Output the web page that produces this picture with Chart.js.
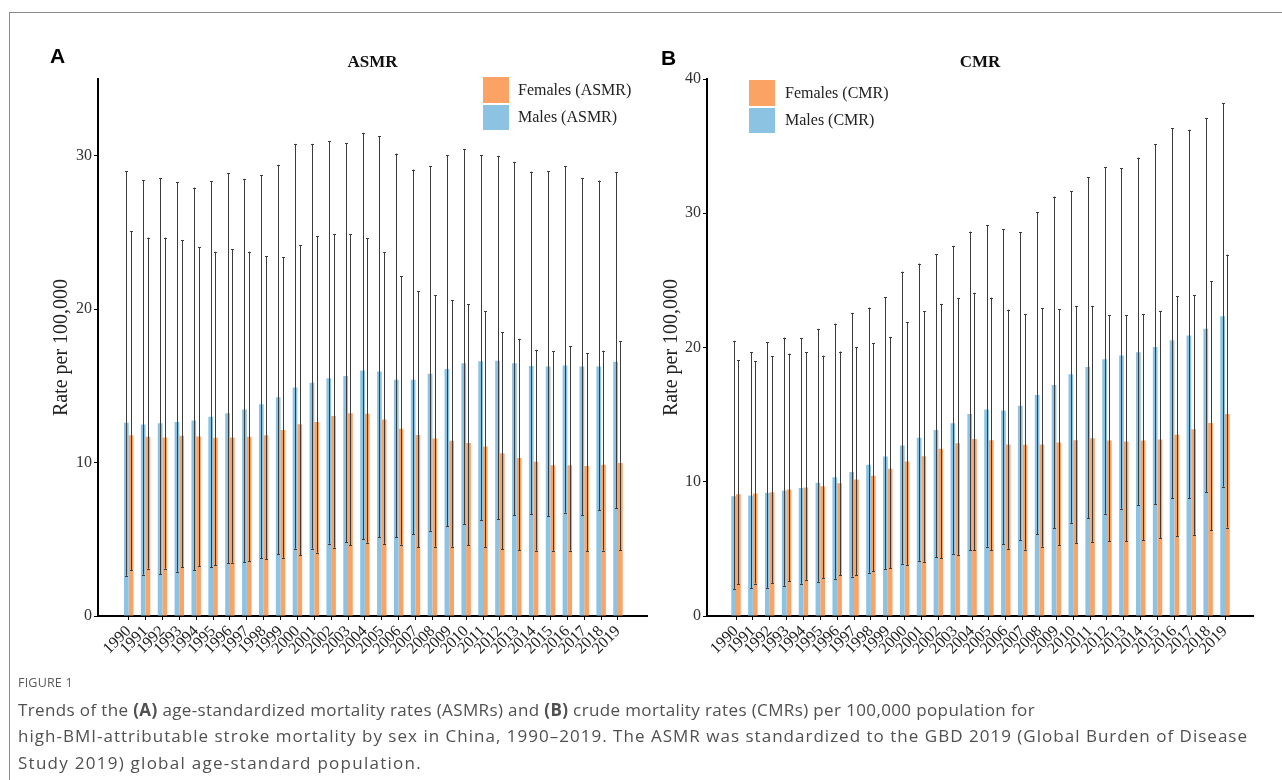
<!DOCTYPE html>
<html>
<head>
<meta charset="utf-8">
<script src="https://cdn.jsdelivr.net/npm/chart.js@4.4.1/dist/chart.umd.min.js"></script>
<style>
  html, body { margin: 0; padding: 0; background: #fff; }
  body { width: 1282px; height: 780px; position: relative; overflow: hidden; }
  .frame { position: absolute; left: 9px; top: 12px; width: 1300px; height: 800px; border: 1px solid #8a8a8a; }
  .wrap { position: absolute; top: 0; width: 620px; height: 680px; }
  .panel { position: absolute; font: bold 21px "Liberation Sans", Arial, sans-serif; line-height: 1; color: #000; }
  .ttl { position: absolute; font: bold 17px "Liberation Serif", "Times New Roman", serif; line-height: 1; color: #111; transform: translateX(-50%); }
  .legend { position: absolute; font: 16px "Liberation Serif", "Times New Roman", serif; color: #222; }
  .legend .row { display: flex; align-items: center; height: 25.5px; margin-bottom: 2px; }
  .legend .box { width: 26px; height: 25.5px; }
  .caption { position: absolute; left: 18px; top: 674px; color: #505050; font-family: "Open Sans", "Noto Sans", sans-serif; }
  .caption .fig { font-size: 12.5px; line-height: 18px; letter-spacing: 0.2px; color: #5a5a5a; }
  .caption p { margin: 4.5px 0 0 0; font-size: 17px; line-height: 26.5px; white-space: nowrap; }
  .caption .ln { display: inline-block; }
</style>
</head>
<body>
<div class="frame"></div>

<div class="wrap" style="left:40px"><canvas id="chartA"></canvas></div>
<div class="wrap" style="left:650px"><canvas id="chartB"></canvas></div>

<div class="panel" style="left:50px; top:45px">A</div>
<div class="panel" style="left:661px; top:47px">B</div>
<div class="ttl" style="left:372.5px; top:53px">ASMR</div>
<div class="ttl" style="left:980px; top:53px">CMR</div>

<div class="legend" style="left:483px; top:77px">
  <div class="row"><div class="box" style="background:#fba365"></div><span style="margin-left:9px">Females (ASMR)</span></div>
  <div class="row"><div class="box" style="background:#8cc3e3"></div><span style="margin-left:9px">Males (ASMR)</span></div>
</div>
<div class="legend" style="left:749px; top:80px">
  <div class="row"><div class="box" style="background:#fba365"></div><span style="margin-left:10px">Females (CMR)</span></div>
  <div class="row"><div class="box" style="background:#8cc3e3"></div><span style="margin-left:10px">Males (CMR)</span></div>
</div>

<div class="caption">
  <div class="fig">FIGURE 1</div>
  <p><span class="ln" data-w="1017">Trends of the <b>(A)</b> age-standardized mortality rates (ASMRs) and <b>(B)</b> crude mortality rates (CMRs) per 100,000 population for</span><br><span class="ln" data-w="1230">high-BMI-attributable stroke mortality by sex in China, 1990–2019. The ASMR was standardized to the GBD 2019 (Global Burden of Disease</span><br><span class="ln" data-w="404">Study 2019) global age-standard population.</span></p>
</div>

<script>
// years on the x axis
const years = [1990, 1991, 1992, 1993, 1994, 1995, 1996, 1997, 1998, 1999,
  2000, 2001, 2002, 2003, 2004, 2005, 2006, 2007, 2008, 2009,
  2010, 2011, 2012, 2013, 2014, 2015, 2016, 2017, 2018, 2019];

// ASMR (age-standardized), per 100,000
const asmrMale   = [12.60, 12.48, 12.57, 12.65, 12.74, 12.98, 13.22, 13.46, 13.80, 14.26, 14.90, 15.20, 15.50, 15.65, 16.00, 15.94, 15.40, 15.40, 15.79, 16.10, 16.48, 16.60, 16.63, 16.48, 16.30, 16.26, 16.33, 16.26, 16.26, 16.57];
const asmrMaleLo = [2.63, 2.70, 2.74, 2.89, 3.00, 3.17, 3.43, 3.52, 3.78, 4.04, 4.39, 4.39, 4.72, 4.81, 5.02, 5.13, 5.13, 5.33, 5.56, 5.85, 5.98, 6.26, 6.31, 6.57, 6.65, 6.52, 6.74, 6.57, 6.89, 7.02];
const asmrMaleHi = [28.98, 28.42, 28.53, 28.29, 27.92, 28.35, 28.88, 28.49, 28.75, 29.40, 30.77, 30.77, 30.96, 30.83, 31.49, 31.27, 30.14, 29.10, 29.31, 30.03, 30.44, 30.05, 29.99, 29.60, 28.96, 28.98, 29.31, 28.55, 28.38, 28.94];
const asmrFemale   = [11.78, 11.68, 11.63, 11.74, 11.70, 11.61, 11.63, 11.68, 11.78, 12.13, 12.50, 12.65, 13.03, 13.22, 13.18, 12.80, 12.20, 11.80, 11.57, 11.42, 11.28, 11.04, 10.61, 10.30, 10.05, 9.83, 9.83, 9.78, 9.85, 9.98];
const asmrFemaleLo = [3.00, 3.09, 3.09, 3.17, 3.26, 3.30, 3.48, 3.59, 3.70, 3.80, 3.96, 4.13, 4.46, 4.61, 4.78, 4.70, 4.65, 4.48, 4.52, 4.52, 4.61, 4.50, 4.35, 4.30, 4.26, 4.26, 4.26, 4.22, 4.26, 4.30];
const asmrFemaleHi = [25.09, 24.66, 24.66, 24.51, 24.03, 23.74, 23.90, 23.74, 23.46, 23.40, 24.16, 24.77, 24.90, 24.90, 24.64, 23.72, 22.16, 21.18, 20.89, 20.59, 20.31, 19.85, 18.50, 18.07, 17.35, 17.24, 17.57, 17.14, 17.29, 17.90];

// CMR (crude), per 100,000
const cmrMale   = [8.92, 8.97, 9.17, 9.34, 9.54, 9.92, 10.34, 10.73, 11.26, 11.88, 12.70, 13.27, 13.86, 14.36, 15.05, 15.38, 15.30, 15.67, 16.47, 17.21, 18.00, 18.55, 19.12, 19.40, 19.64, 20.04, 20.54, 20.89, 21.39, 22.32];
const cmrMaleLo = [2.02, 2.07, 2.10, 2.25, 2.40, 2.55, 2.77, 2.94, 3.22, 3.51, 3.89, 4.11, 4.36, 4.63, 4.90, 5.17, 5.37, 5.67, 6.09, 6.54, 6.94, 7.28, 7.61, 8.00, 8.28, 8.32, 8.77, 8.77, 9.20, 9.64];
const cmrMaleHi = [20.49, 19.64, 20.39, 20.74, 20.69, 21.39, 21.78, 22.58, 22.97, 23.74, 25.65, 26.25, 26.94, 27.57, 28.63, 29.13, 28.83, 28.58, 30.10, 31.24, 31.66, 32.70, 33.42, 33.37, 34.14, 35.13, 36.35, 36.22, 37.10, 38.21];
const cmrFemale   = [9.07, 9.12, 9.22, 9.42, 9.57, 9.67, 9.89, 10.16, 10.44, 10.96, 11.50, 11.90, 12.45, 12.87, 13.19, 13.09, 12.77, 12.75, 12.77, 12.92, 13.09, 13.24, 13.07, 12.99, 13.07, 13.14, 13.51, 13.91, 14.38, 15.05];
const cmrFemaleLo = [2.37, 2.42, 2.44, 2.59, 2.70, 2.84, 3.04, 3.04, 3.34, 3.56, 3.81, 4.04, 4.30, 4.56, 4.88, 4.88, 5.00, 4.95, 5.17, 5.30, 5.45, 5.52, 5.57, 5.57, 5.64, 5.79, 5.97, 6.05, 6.39, 6.59];
const cmrFemaleHi = [19.05, 19.00, 19.35, 19.55, 19.64, 19.40, 19.70, 20.04, 20.34, 20.79, 21.88, 22.70, 23.25, 23.69, 24.07, 23.72, 22.82, 22.50, 22.92, 22.87, 23.10, 23.10, 22.40, 22.40, 22.47, 22.73, 23.84, 23.89, 24.93, 26.92];

const maleColor = '#8cc3e3';
const femaleColor = '#fba365';
const serif = '"Liberation Serif", "Times New Roman", serif';

// whiskers drawn on top of the bars
const errorBars = {
  id: 'errorBars',
  afterDatasetsDraw(chart) {
    const ctx = chart.ctx;
    const y = chart.scales.y;
    ctx.save();
    ctx.strokeStyle = '#3c3c3c';
    ctx.lineWidth = 1;
    chart.data.datasets.forEach((ds, i) => {
      const meta = chart.getDatasetMeta(i);
      meta.data.forEach((bar, j) => {
        const x = Math.round(bar.x) + 0.5;
        const top = y.getPixelForValue(ds.errHi[j]);
        const bot = y.getPixelForValue(ds.errLo[j]);
        ctx.beginPath();
        ctx.moveTo(x, top);
        ctx.lineTo(x, bot);
        ctx.moveTo(x - 1.5, Math.round(top) + 0.5);
        ctx.lineTo(x + 1.5, Math.round(top) + 0.5);
        ctx.moveTo(x - 1.5, Math.round(bot) + 0.5);
        ctx.lineTo(x + 1.5, Math.round(bot) + 0.5);
        ctx.stroke();
      });
    });
    ctx.restore();
  }
};

function pts(vals) {
  return years.map((yr, i) => ({ x: yr, y: vals[i] }));
}

function makeChart(id, o) {
  return new Chart(document.getElementById(id), {
    type: 'bar',
    data: {
      datasets: [
        { label: o.maleLabel, data: pts(o.male), errLo: o.maleLo, errHi: o.maleHi, backgroundColor: maleColor },
        { label: o.femaleLabel, data: pts(o.female), errLo: o.femaleLo, errHi: o.femaleHi, backgroundColor: femaleColor }
      ]
    },
    options: {
      responsive: false,
      animation: false,
      categoryPercentage: 0.56,
      barPercentage: 1.0,
      layout: { padding: { left: 0, right: o.padRight, top: 79, bottom: 0 } },
      plugins: { legend: { display: false }, tooltip: { enabled: false } },
      scales: {
        x: {
          type: 'linear',
          min: o.xMin,
          max: o.xMax,
          offset: false,
          afterFit: (s) => { s.height = 64; },
          afterBuildTicks: (s) => { s.ticks = s.ticks.filter(t => t.value >= 1990 && t.value <= 2019); },
          ticks: {
            stepSize: 1,
            includeBounds: false,
            autoSkip: false,
            maxRotation: 45,
            minRotation: 45,
            padding: 2,
            color: '#222',
            font: { family: serif, size: 16 },
            callback: (v) => String(v)
          },
          grid: { offset: false, drawOnChartArea: false, drawTicks: true, tickLength: 4, color: '#000' },
          border: { display: true, color: '#000', width: 2 }
        },
        y: {
          min: 0,
          max: o.yMax,
          afterFit: (s) => { s.width = o.yWidth; },
          ticks: {
            stepSize: 10,
            includeBounds: false,
            padding: 2,
            color: '#333',
            font: { family: serif, size: 16 }
          },
          title: {
            display: true,
            text: 'Rate per 100,000',
            color: '#222',
            font: { family: serif, size: 20 },
            padding: { top: 9.5, bottom: 0 }
          },
          grid: { drawOnChartArea: false, drawTicks: true, tickLength: 4, color: '#000' },
          border: { display: true, color: '#000', width: 2 }
        }
      }
    },
    plugins: [errorBars]
  });
}

document.getElementById('chartA').width = 620;
document.getElementById('chartA').height = 680;
document.getElementById('chartB').width = 620;
document.getElementById('chartB').height = 680;

makeChart('chartA', {
  maleLabel: 'Males (ASMR)', femaleLabel: 'Females (ASMR)',
  male: asmrMale, maleLo: asmrMaleLo, maleHi: asmrMaleHi,
  female: asmrFemale, femaleLo: asmrFemaleLo, femaleHi: asmrFemaleHi,
  yMax: 35, xMin: 1988.18, xMax: 2020.72, yWidth: 58, padRight: 13
});

makeChart('chartB', {
  maleLabel: 'Males (CMR)', femaleLabel: 'Females (CMR)',
  male: cmrMale, maleLo: cmrMaleLo, maleHi: cmrMaleHi,
  female: cmrFemale, femaleLo: cmrFemaleLo, femaleHi: cmrFemaleHi,
  yMax: 40, xMin: 1988.28, xMax: 2020.66, yWidth: 57, padRight: 17
});

// stretch each caption line to the width it has in the printed figure
document.querySelectorAll('.caption .ln').forEach(el => {
  const target = +el.dataset.w;
  const n = el.textContent.length;
  const w = el.getBoundingClientRect().width;
  el.style.letterSpacing = ((target - w) / n).toFixed(3) + 'px';
});
</script>
</body>
</html>
